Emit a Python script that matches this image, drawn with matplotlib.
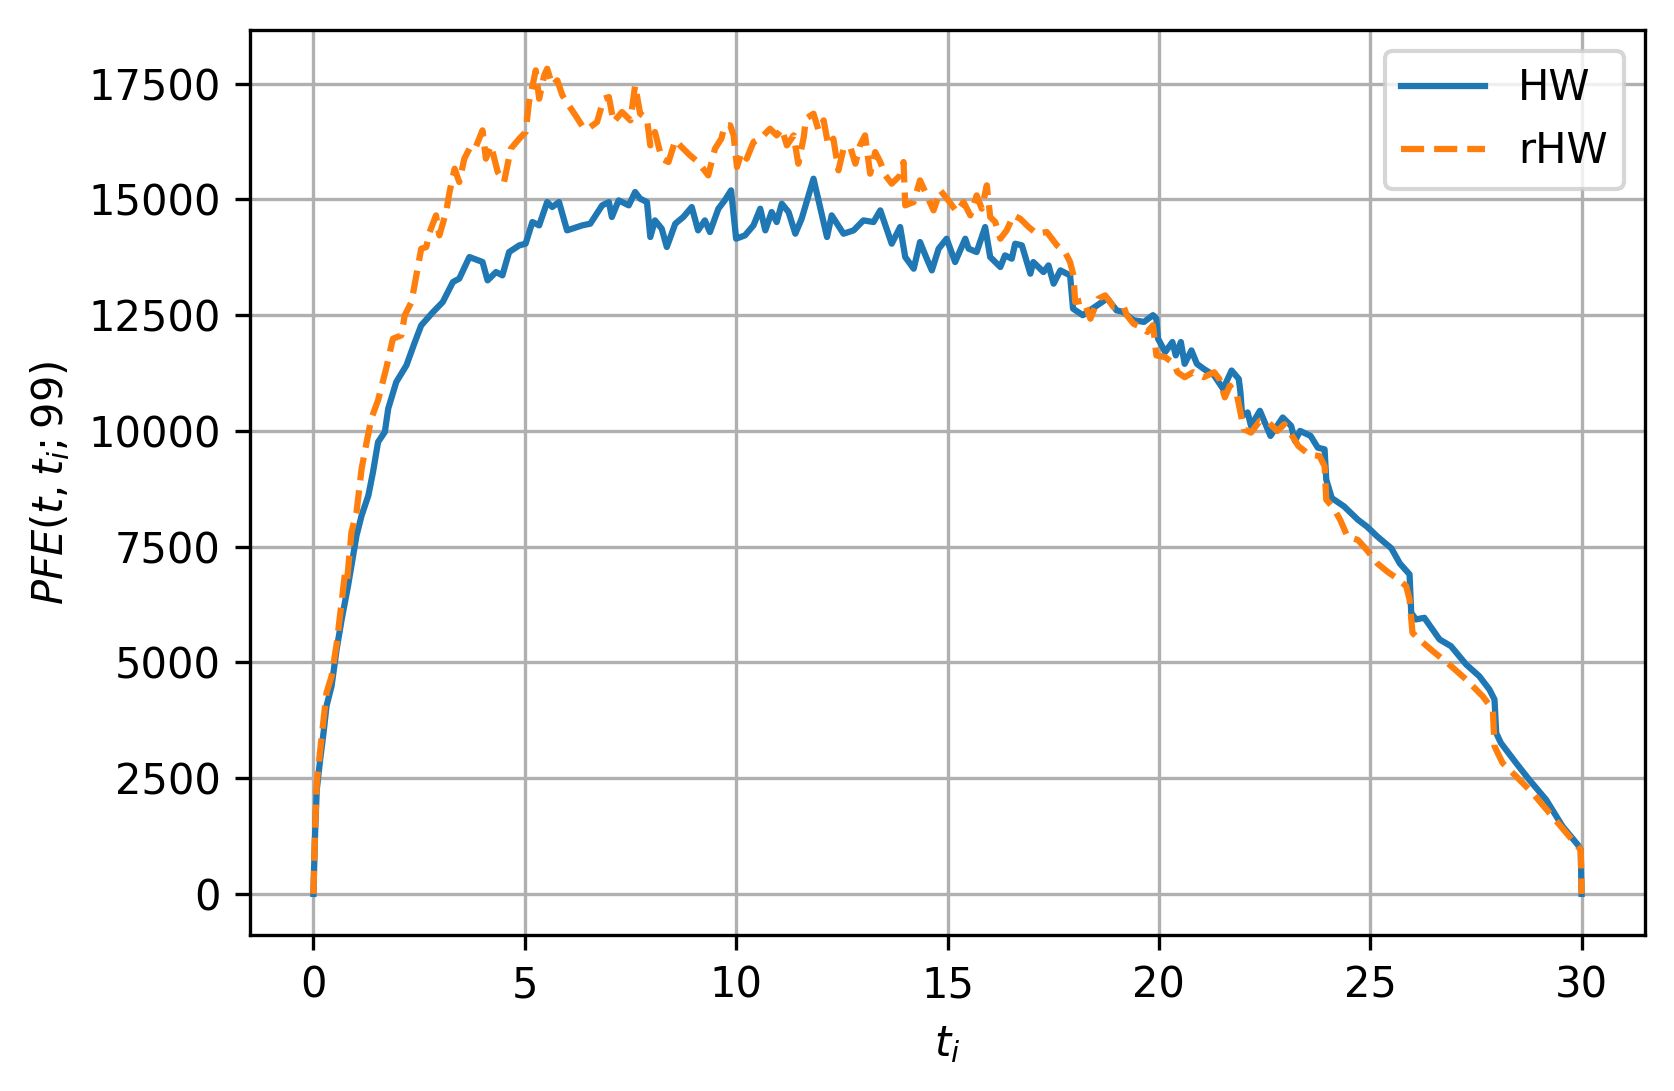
import numpy as np
import matplotlib
matplotlib.use("Agg")
import matplotlib.pyplot as plt

# PFE profile
hw_t = [
    0.0, 0.04, 0.08, 0.16, 0.24, 0.31, 0.43, 0.55, 0.67, 0.82, 0.9, 1.02,
    1.14, 1.3, 1.41, 1.53, 1.69, 1.77, 1.96, 2.2, 2.4, 2.55, 2.83, 3.06,
    3.3, 3.45, 3.69, 4.0, 4.12, 4.32, 4.47, 4.63, 4.87, 5.02, 5.18, 5.34,
    5.53, 5.65, 5.81, 6.0, 6.36, 6.55, 6.83, 6.99, 7.06, 7.22, 7.46, 7.61,
    7.73, 7.89, 7.97, 8.08, 8.24, 8.36, 8.56, 8.75, 8.95, 9.1, 9.26, 9.38,
    9.58, 9.73, 9.88, 10.0, 10.21, 10.41, 10.57, 10.69, 10.84, 10.96, 11.08,
    11.24, 11.4, 11.55, 11.83, 12.15, 12.26, 12.54, 12.78, 13.01, 13.25,
    13.41, 13.68, 13.88, 14.0, 14.2, 14.35, 14.51, 14.63, 14.79, 14.98,
    15.18, 15.42, 15.5, 15.69, 15.89, 16.01, 16.25, 16.36, 16.52, 16.6,
    16.76, 16.96, 17.03, 17.27, 17.39, 17.51, 17.67, 17.82, 17.9, 17.97,
    18.2, 18.49, 18.78, 19.0, 19.15, 19.4, 19.65, 19.86, 19.94, 19.98,
    20.15, 20.32, 20.4, 20.52, 20.61, 20.77, 20.9, 21.06, 21.31, 21.52,
    21.72, 21.89, 21.93, 21.97, 22.1, 22.18, 22.39, 22.64, 22.93, 23.13,
    23.22, 23.34, 23.59, 23.76, 23.92, 23.96, 24.09, 24.38, 24.71, 24.92,
    25.17, 25.5, 25.7, 25.93, 25.97, 26.08, 26.28, 26.64, 26.91, 27.27,
    27.58, 27.82, 27.94, 27.98, 28.09, 28.45, 28.76, 29.16, 29.55, 29.91,
    29.98, 30.0,
]
hw_pfe = [
    0, 1314, 2253, 2902, 3480, 4058, 4491, 5285, 5935, 6657, 7090, 7740,
    8173, 8606, 9112, 9761, 9978, 10483, 11056, 11416, 11920, 12280, 12568, 12784,
    13216, 13290, 13756, 13650, 13252, 13432, 13360, 13864, 14008, 14044, 14512, 14440,
    14944, 14836, 14944, 14332, 14440, 14476, 14872, 14944, 14620, 14980, 14872, 15160,
    15016, 14944, 14188, 14548, 14368, 13972, 14476, 14620, 14836, 14332, 14548, 14296,
    14800, 14980, 15196, 14152, 14224, 14440, 14800, 14332, 14728, 14512, 14908,
    14728, 14260, 14584, 15448, 14188, 14656, 14260, 14332, 14548, 14512,
    14764, 14044, 14404, 13756, 13504, 14080, 13720, 13468, 13936, 14152,
    13648, 14152, 13936, 13864, 14404, 13756, 13540, 13792, 13720, 14044,
    14008, 13396, 13648, 13432, 13576, 13180, 13468, 13396, 13360, 12640,
    12500, 12681, 12862, 12604, 12573, 12391, 12355, 12500, 12428, 11993,
    11703, 11920, 11631, 11920, 11449, 11739, 11449, 11341, 11196, 10906,
    11305, 11123, 10834, 10326, 10399, 10109, 10435, 9892, 10290, 10109,
    9783, 10000, 9892, 9638, 9602, 8950, 8551, 8370, 8080, 7935,
    7718, 7464, 7138, 6902, 6072, 5928, 5964, 5496, 5351, 4955,
    4702, 4414, 4198, 3477, 3261, 2828, 2467, 2035, 1458, 1061,
    950, 0,
]

rhw_t = [
    0.0, 0.04, 0.08, 0.16, 0.31, 0.43, 0.55, 0.75, 0.8, 0.9, 1.02, 1.14,
    1.26, 1.37, 1.53, 1.73, 1.88, 2.08, 2.16, 2.32, 2.47, 2.55, 2.67, 2.75,
    2.9, 2.98, 3.14, 3.22, 3.34, 3.45, 3.57, 3.69, 3.81, 4.0, 4.08, 4.2,
    4.36, 4.51, 4.67, 4.87, 5.02, 5.1, 5.26, 5.34, 5.46, 5.53, 5.65, 5.77,
    5.89, 6.04, 6.2, 6.4, 6.55, 6.71, 6.87, 6.99, 7.1, 7.3, 7.5, 7.61,
    7.73, 7.89, 7.97, 8.08, 8.24, 8.4, 8.56, 8.71, 8.91, 9.1, 9.34, 9.5,
    9.65, 9.73, 9.86, 9.94, 10.02, 10.13, 10.25, 10.41, 10.61, 10.8, 10.96,
    11.08, 11.2, 11.36, 11.47, 11.6, 11.65, 11.83, 11.95, 12.07, 12.18,
    12.3, 12.42, 12.54, 12.7, 12.82, 12.93, 13.05, 13.17, 13.29, 13.41,
    13.53, 13.68, 13.88, 13.96, 14.0, 14.2, 14.35, 14.51, 14.67, 14.83,
    15.02, 15.22, 15.38, 15.54, 15.69, 15.81, 15.93, 16.01, 16.13, 16.25,
    16.4, 16.56, 16.72, 16.92, 17.11, 17.35, 17.59, 17.78, 17.9, 17.98,
    18.02, 18.22, 18.38, 18.57, 18.73, 18.93, 19.17, 19.24, 19.4, 19.57,
    19.73, 19.86, 19.9, 19.94, 20.15, 20.36, 20.44, 20.61, 20.81, 21.06,
    21.31, 21.43, 21.56, 21.68, 21.85, 21.93, 22.01, 22.18, 22.39, 22.6,
    22.8, 22.97, 23.13, 23.3, 23.55, 23.8, 23.92, 23.96, 24.13, 24.29,
    24.46, 24.71, 24.92, 25.17, 25.41, 25.61, 25.85, 25.93, 26.0, 26.16,
    26.48, 26.87, 27.27, 27.66, 27.9, 27.94, 28.13, 28.45, 28.84, 29.24,
    29.71, 29.91, 29.98, 30.0,
]
rhw_pfe = [
    0, 1400, 2400, 3100, 4346, 4700, 5400, 6946, 6800, 7812, 8245, 9184,
    9761, 10267, 10664, 11380, 11992, 12064, 12496, 12784, 13540, 13936, 13972, 14296,
    14656, 14224, 14728, 15160, 15664, 15376, 15880, 16096, 16060, 16492, 15880, 16168,
    15592, 15376, 16096, 16312, 16456, 17104, 17788, 17176, 17680, 17824, 17464, 17572,
    17248, 17032, 16816, 16528, 16564, 16672, 17176, 17212, 16672, 16888, 16708, 17464,
    16852, 16744, 16168, 16456, 15880, 15808, 16276, 16132, 15952, 15808, 15520, 16096,
    16312, 16600, 16600, 16384, 15700, 16024, 15880, 16240, 16348, 16528, 16384,
    16528, 16168, 16384, 15772, 16348, 16744, 16852, 16492, 16708, 16168,
    16312, 15628, 16096, 16132, 15772, 16168, 16384, 15556, 16024, 15808,
    15520, 15340, 15520, 15808, 14872, 14944, 15412, 15088, 14764, 15196,
    14980, 14728, 14944, 14656, 15088, 14800, 15304, 14620, 14512, 14152,
    14332, 14656, 14584, 14404, 14260, 14296, 14008, 13864, 13648, 13360,
    12784, 12820, 12424, 12856, 12928, 12676, 12676, 12500, 12316, 12247,
    12138, 12283, 11993, 11631, 11594, 11449, 11268, 11160, 11268, 11160,
    11268, 11123, 10725, 10978, 10761, 10399, 10036, 9964, 10218, 10181,
    10000, 10145, 9928, 9674, 9493, 9457, 9239, 8515, 8334, 8080,
    7718, 7645, 7428, 7138, 6957, 6830, 6649, 6361, 5640, 5496,
    5243, 4955, 4630, 4270, 3982, 3188, 2828, 2540, 2179, 1747,
    1242, 1025, 950, 0,
]


def create_graph():
    fig = plt.figure(figsize=(1674 / 300, 1091 / 300), dpi=300)
    ax = fig.add_axes([250 / 1674, 156 / 1091, 1395 / 1674, 905 / 1091])

    ax.plot(np.array(hw_t), np.array(hw_pfe), label="HW", linewidth=1.5)
    ax.plot(np.array(rhw_t), np.array(rhw_pfe), "--", label="rHW", linewidth=1.5)

    ax.set_xlim(-1.5, 31.5)
    ax.set_ylim(-888, 18660)
    ax.set_xticks([0, 5, 10, 15, 20, 25, 30])
    ax.set_yticks(np.arange(0, 17501, 2500))

    ax.set_xlabel(r"$t_i$")
    ax.set_ylabel(r"$PFE(t,t_i;99)$")

    ax.legend(loc="upper right")
    ax.grid(True)

    fig.savefig("out.png", dpi=300)


def main():
    create_graph()


if __name__ == "__main__":
    main()
